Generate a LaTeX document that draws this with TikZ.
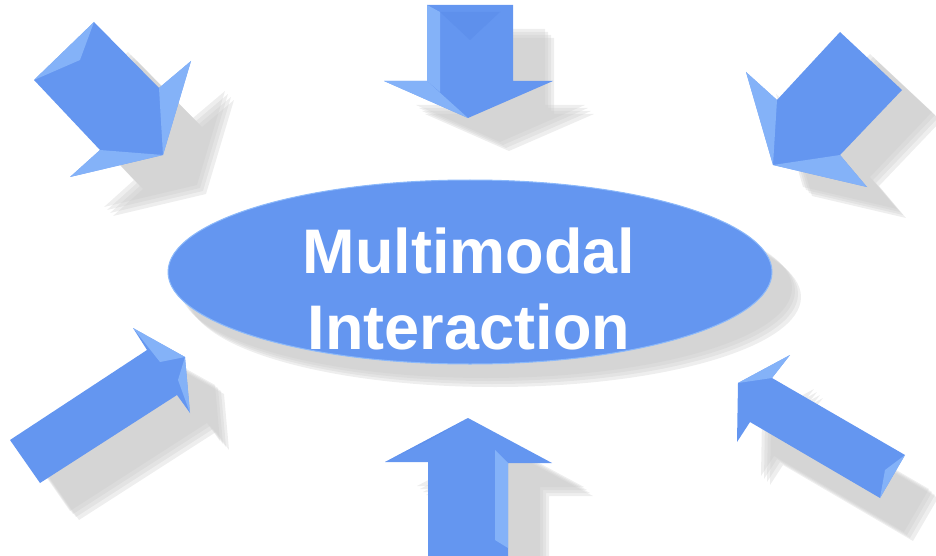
\documentclass[tikz,border=0pt]{standalone}
\usepackage{fontspec}
\setmainfont{Liberation Sans}
\usetikzlibrary{shapes.geometric}

\definecolor{arrowblue}{RGB}{100,150,240}
\definecolor{arrowlight}{RGB}{140,185,250}
\definecolor{arrowdark}{RGB}{85,135,230}
\definecolor{shadowgray}{RGB}{200,200,200}

\tikzset{
    shad/.style={fill=shadowgray, fill opacity=0.3},
    arr/.style={fill=arrowblue},
    facet/.style={fill=arrowlight, fill opacity=0.8},
    facetdark/.style={fill=arrowdark, fill opacity=0.4},
    label/.style={text=white, font=\fontsize{63}{72}\selectfont\bfseries, inner sep=0pt}
}

\begin{document}
\begin{tikzpicture}[x=1pt,y=-1pt]

        \useasboundingbox (0,0) rectangle (936,556);
        \clip (0,0) rectangle (936,556);

        % shadows of the arrows
        \foreach \d in {0,3,6,9}{
            \fill[shad, shift={(34+\d,30+\d)}] (94,22) -- (159,88) -- (191,61) -- (163,155) -- (70,177) -- (100,150) -- (34,80) -- cycle;
            \fill[shad, shift={(32+\d,24+\d)}] (427,5) -- (513,5) -- (513,81) -- (553,81) -- (468,118) -- (384,81) -- (427,81) -- cycle;
            \fill[shad, shift={(30+\d,22+\d)}] (840,32) -- (902,90) -- (840,155) -- (867,187) -- (773,165) -- (746,72) -- (777,100) -- cycle;
            \fill[shad, shift={(30+\d,28+\d)}] (10,440) -- (147,350) -- (133,328) -- (185,357) -- (190,413) -- (177,395) -- (40,483) -- cycle;
            \fill[shad, shift={(32+\d,24+\d)}] (428,556) -- (428,462) -- (385,462) -- (468,418) -- (552,463) -- (508,463) -- (508,556) -- cycle;
            \fill[shad, shift={(24+\d,34+\d)}] (905,455) -- (772,378) -- (790,355) -- (738,383) -- (737,442) -- (750,422) -- (880,498) -- cycle;
            \fill[shad] (486+\d,288+\d) ellipse [x radius=306, y radius=90];
        }

        % top left arrow
        \fill[arr] (94,22) -- (159,88) -- (191,61) -- (163,155) -- (70,177) -- (100,150) -- (34,80) -- cycle;
        \fill[facet] (34,80) -- (94,22) -- (80,60) -- cycle;
        \fill[facet] (159,88) -- (191,61) -- (163,155) -- cycle;
        \fill[facet] (70,177) -- (100,150) -- (163,155) -- cycle;

        % top middle arrow
        \fill[arr] (427,5) -- (513,5) -- (513,81) -- (553,81) -- (468,118) -- (384,81) -- (427,81) -- cycle;
        \fill[facet] (427,5) -- (440,12) -- (440,92) -- (427,81) -- cycle;
        \fill[facetdark] (440,12) -- (470,40) -- (500,12) -- cycle;
        \fill[facet] (384,81) -- (427,81) -- (468,118) -- cycle;

        % top right arrow
        \fill[arr] (840,32) -- (902,90) -- (840,155) -- (867,187) -- (773,165) -- (746,72) -- (777,100) -- cycle;
        \fill[facet] (746,72) -- (777,100) -- (773,165) -- cycle;
        \fill[facet] (773,165) -- (840,155) -- (867,187) -- cycle;

        % bottom left arrow
        \fill[arr] (10,440) -- (147,350) -- (133,328) -- (185,357) -- (190,413) -- (177,395) -- (40,483) -- cycle;
        \fill[facet] (133,328) -- (185,357) -- (160,362) -- cycle;
        \fill[facet] (185,357) -- (190,413) -- (178,380) -- cycle;

        % bottom middle arrow
        \fill[arr] (428,556) -- (428,462) -- (385,462) -- (468,418) -- (552,463) -- (508,463) -- (508,556) -- cycle;
        \fill[facet] (495,450) -- (508,463) -- (508,548) -- (495,540) -- cycle;
        \fill[facetdark] (385,462) -- (468,418) -- (430,440) -- cycle;

        % bottom right arrow
        \fill[arr] (905,455) -- (772,378) -- (790,355) -- (738,383) -- (737,442) -- (750,422) -- (880,498) -- cycle;
        \fill[facet] (880,498) -- (905,455) -- (885,470) -- cycle;
        \fill[facet] (790,355) -- (738,383) -- (772,378) -- cycle;

        % centre ellipse
        \node[ellipse, draw=arrowlight, line width=1pt, fill=arrowblue,
              minimum width=604pt, minimum height=184pt, inner sep=0pt] (core) at (470,272) {};

        \node[label, anchor=base] (word1) at (469,273) {Multimodal};
        \node[label, anchor=base] (word2) at (469,349) {Interaction};

\end{tikzpicture}
\end{document}
